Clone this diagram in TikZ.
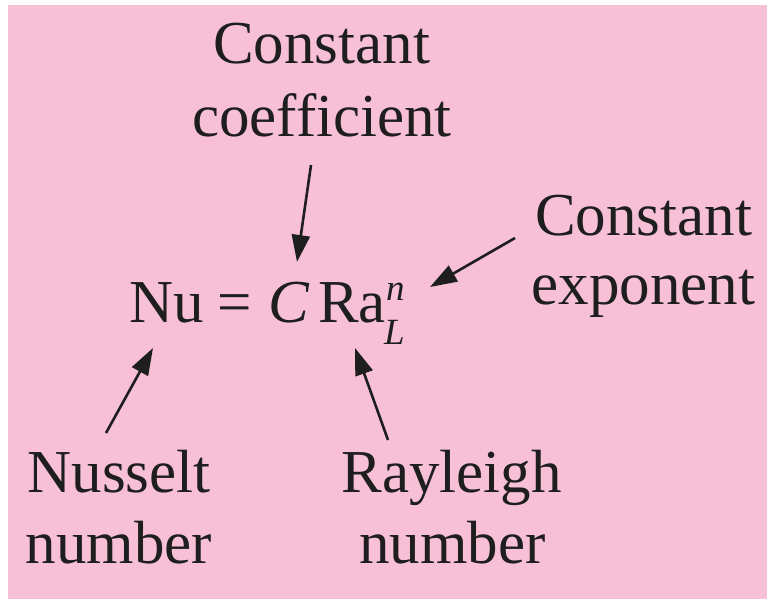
\documentclass[tikz,border=0pt]{standalone}
\usepackage{fontspec}
\setmainfont{Liberation Serif}
\usetikzlibrary{arrows.meta}
\definecolor{pinkbg}{RGB}{247,192,215}
\definecolor{ink}{RGB}{30,30,30}
\tikzset{
  lbl/.style={anchor=base, inner sep=0pt, text=ink, font=\fontsize{61}{73}\selectfont},
  eq/.style={anchor=base west, inner sep=0pt, text=ink, font=\fontsize{61}{73}\selectfont},
  scr/.style={anchor=base west, inner sep=0pt, text=ink, font=\fontsize{37}{40}\selectfont\itshape},
  arr/.style={draw=ink, line width=2.6pt, -{Triangle[length=27pt,width=18pt]}}
}
\begin{document}
\begin{tikzpicture}[x=1pt,y=1pt]
\useasboundingbox (0,0) rectangle (767,599);
\fill[pinkbg] (8,0) rectangle (767,594);
% labels
\node[lbl] (coefA) at (321.5,535) {Constant};
\node[lbl] (coefB) at (322,462) {coefficient};
\node[lbl] (expA) at (643.5,363) {Constant};
\node[lbl] (expB) at (643.5,294) {exponent};
\node[lbl] (nuA) at (119,106) {Nusselt};
\node[lbl] (nuB) at (119,36) {number};
\node[lbl] (raA) at (451.5,106) {Rayleigh};
\node[lbl] (raB) at (452.5,36) {number};
% equation
\node[eq] (Nu) at (129,276) {Nu};
\node[eq] (eqs) at (217,276) {=};
\node[eq] (C) at (268,276) {\itshape C};
\node[eq] (Ra) at (318,276) {Ra};
\node[scr] (n) at (386,298) {n};
\node[scr] (L) at (384,254) {L};
% arrow ends
\coordinate (cTail) at (311,434);
\coordinate (cTip) at (297,337);
\coordinate (eTail) at (515,361);
\coordinate (eTip) at (430,312);
\coordinate (nTail) at (106,166);
\coordinate (nTip) at (153,251);
\coordinate (rTail) at (388,159);
\coordinate (rTip) at (355,251);
\draw[arr] (cTail) -- (cTip);
\draw[arr] (eTail) -- (eTip);
\draw[arr] (nTail) -- (nTip);
\draw[arr] (rTail) -- (rTip);
\end{tikzpicture}
\end{document}
